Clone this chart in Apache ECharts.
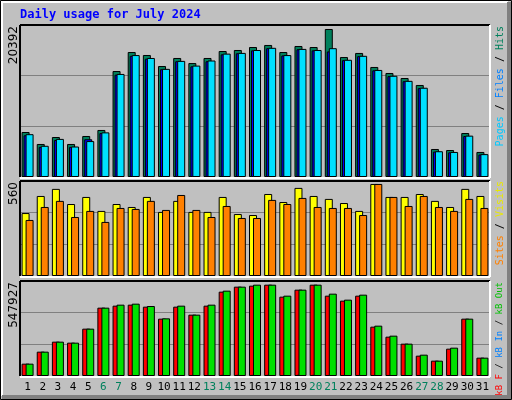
<!DOCTYPE html>
<html>
<head>
<meta charset="UTF-8">
<style>
  html, body { margin: 0; padding: 0; background: #c0c0c0; }
  #chart { width: 512px; height: 400px; }
</style>
</head>
<body>
<div id="chart"></div>
<script src="https://cdn.jsdelivr.net/npm/echarts@6/dist/echarts.min.js"></script>
<script>
// days of July 2024, weekends drawn in green
const days = ['1','2','3','4','5','6','7','8','9','10','11','12','13','14','15','16','17','18','19','20','21','22','23','24','25','26','27','28','29','30','31'];
const weekend = ['6','7','13','14','20','21','27','28'];

const hits  = [6200,4550,5510,4550,5650,6480,14600,17220,16810,15290,16400,15700,16400,17360,17500,17910,18190,17220,18050,17910,20392,16530,17090,15160,14330,13640,12680,3860,3720,6060,3450];
const files = [5750,4150,5100,4150,5200,6050,14100,16700,16300,14850,15950,15250,15950,16900,17050,17450,17750,16750,17600,17450,17300,16100,16650,14700,13900,13200,12250,3500,3400,5650,3100];
const pages = [5900,4300,5250,4200,4950,6150,14200,16800,16400,14900,16000,15350,16050,17000,17100,17500,17800,16800,17650,17500,17750,16150,16700,14750,13950,13250,12300,3550,3450,5700,3150];

const visits = [383,487,530,438,481,396,438,420,481,390,457,390,390,481,377,371,499,450,536,487,469,444,396,560,481,481,499,457,420,530,487];
const sites  = [341,420,457,359,396,329,414,408,457,402,493,402,359,426,353,353,463,438,475,420,414,414,371,560,481,426,487,420,396,469,414];

const kbF   = [74000,146000,206000,200000,284000,410000,422000,428000,416000,344000,416000,368000,422000,506000,536000,542000,547927,476000,518000,547927,482000,452000,482000,296000,236000,194000,122000,92000,164000,344000,110000];
const kbIn  = [4000,4000,4000,4000,4000,5000,6000,6000,6000,5000,6000,5000,6000,7000,7000,7000,7000,6000,7000,7000,6000,6000,6000,4000,4000,4000,3000,3000,4000,4000,3000];
const kbOut = [74000,146000,206000,200000,284000,410000,428000,434000,420000,346000,422000,368000,428000,512000,536000,548000,547927,482000,518000,547927,494000,458000,488000,302000,242000,194000,128000,92000,170000,344000,110000];

const maxHits = 20392, maxVisits = 560, maxKb = 547927;

const chart = echarts.init(document.getElementById('chart'));
const mono = 'DejaVu Sans Mono';
const L = 20, W = 470;
const panels = [
  { top: 25, height: 152, max: 20943 },
  { top: 181, height: 95, max: 578 },
  { top: 281, height: 95, max: 570000 }
];

function bar(name, data, color, idx, gap) {
  return {
    name, type: 'bar', data, xAxisIndex: idx, yAxisIndex: idx,
    barWidth: 8, barGap: gap, animation: false,
    itemStyle: { color, borderColor: '#000', borderWidth: 1 }
  };
}

function frame(p) {
  const r = L + W, b = p.top + p.height;
  return [
    { type: 'line', shape: { x1: L, y1: p.top, x2: r, y2: p.top }, style: { stroke: '#000', lineWidth: 2 }, z: 10 },
    { type: 'line', shape: { x1: L, y1: p.top, x2: L, y2: b }, style: { stroke: '#000', lineWidth: 2 }, z: 10 },
    { type: 'line', shape: { x1: r, y1: p.top, x2: r, y2: b + 1 }, style: { stroke: '#fff', lineWidth: 2 }, z: 10 },
    { type: 'line', shape: { x1: L, y1: b + 1, x2: r, y2: b + 1 }, style: { stroke: '#fff', lineWidth: 2 }, z: 10 }
  ];
}

function sideText(y, parts, size) {
  const font = size + 'px ' + mono;
  return {
    type: 'text', x: 500, y: y, rotation: Math.PI / 2, z: 10,
    style: {
      text: parts.map(p => '{' + p[1] + '|' + p[0] + '}').join(''),
      align: 'right', verticalAlign: 'middle', font,
      rich: Object.fromEntries(parts.map(p => [p[1], { fill: p[2], font }]))
    }
  };
}

function maxText(y, v) {
  return {
    type: 'text', x: 14, y: y, rotation: Math.PI / 2, z: 10,
    style: { text: String(v), align: 'right', verticalAlign: 'middle', font: '12px DejaVu Sans', fill: '#000' }
  };
}

chart.setOption({
  backgroundColor: '#c0c0c0',
  grid: panels.map(p => ({ left: L, width: W, top: p.top, height: p.height, show: true, backgroundColor: '#c0c0c0', borderWidth: 0 })),
  xAxis: panels.map((p, i) => ({
    type: 'category', data: days, gridIndex: i,
    axisLine: { show: false }, axisTick: { show: false },
    axisLabel: {
      show: i === 2, margin: 6, interval: 0, fontFamily: mono, fontSize: 11,
      color: (v) => weekend.includes(v) ? '#00805c' : '#000'
    }
  })),
  yAxis: panels.map((p, i) => ({
    type: 'value', gridIndex: i, min: 0, max: p.max, interval: p.max / 3,
    axisLabel: { show: false }, axisLine: { show: false }, axisTick: { show: false },
    splitLine: { lineStyle: { color: '#808080', width: 1 } }
  })),
  series: [
    bar('Hits', hits, '#00805c', 0, '-75%'),
    bar('Files', files, '#0000ff', 0, '-75%'),
    bar('Pages', pages, '#00e0ff', 0, '-75%'),
    bar('Visits', visits, '#ffff00', 1, '-50%'),
    bar('Sites', sites, '#ff8000', 1, '-50%'),
    bar('kB F', kbF, '#ff0000', 2, '-75%'),
    bar('kB In', kbIn, '#0080ff', 2, '-75%'),
    bar('kB Out', kbOut, '#00e000', 2, '-75%')
  ],
  graphic: [
    { type: 'rect', shape: { x: 0.5, y: 0.5, width: 511, height: 399 }, style: { fill: 'none', stroke: '#000', lineWidth: 1 }, z: 10 },
    { type: 'polyline', shape: { points: [[2, 396], [2, 2], [508, 2]] }, style: { stroke: '#fff', lineWidth: 2, fill: 'none' }, z: 10 },
    { type: 'polyline', shape: { points: [[509, 2], [509, 397], [2, 397]] }, style: { stroke: '#808080', lineWidth: 4, fill: 'none' }, z: 10 },
    { type: 'text', x: 20, y: 15, style: { text: 'Daily usage for July 2024', font: 'bold 12px ' + mono, fill: '#0000ff', verticalAlign: 'middle' }, z: 10 },
    ...panels.flatMap(frame),
    maxText(26, maxHits),
    maxText(182, maxVisits),
    maxText(282, maxKb),
    sideText(26, [['Pages', 'a', '#00c8ff'], [' / ', 'b', '#000'], ['Files', 'c', '#0080ff'], [' / ', 'd', '#000'], ['Hits', 'e', '#00805c']], 10),
    sideText(181, [['Sites', 'a', '#ff8000'], [' / ', 'b', '#000'], ['Visits', 'c', '#e8e800']], 10),
    sideText(282, [['kB F', 'a', '#ff0000'], [' / ', 'b', '#000'], ['kB In', 'c', '#0080ff'], [' / ', 'd', '#000'], ['kB Out', 'e', '#00c000']], 9)
  ]
});
</script>
</body>
</html>
